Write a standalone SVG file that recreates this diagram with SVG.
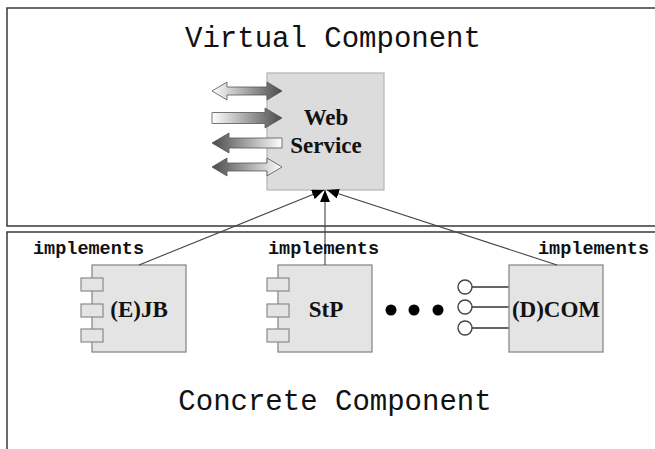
<svg xmlns="http://www.w3.org/2000/svg" xmlns:xlink="http://www.w3.org/1999/xlink" width="655" height="449" viewBox="0 0 655 449">
  <style>
    .frame { fill: none; stroke: #3a3a3a; stroke-width: 1.5; }
    .title { font-family: "Liberation Mono", "Courier New", monospace; font-size: 29px; fill: #111; text-anchor: middle; }
    .impl { font-family: "Liberation Mono", "Courier New", monospace; font-size: 18.5px; font-weight: bold; fill: #111; }
    .label { font-family: "Liberation Serif", "Times New Roman", serif; font-size: 23px; font-weight: bold; fill: #111; text-anchor: middle; }
    .box { fill: #e4e4e4; stroke: #8a8a8a; stroke-width: 1.3; }
    .ws { fill: #dcdcdc; stroke: #b4b4b4; stroke-width: 1.2; }
    .port { fill: #e4e4e4; stroke: #8a8a8a; stroke-width: 1.2; }
    .lolly { fill: #ffffff; stroke: #444; stroke-width: 1.4; }
    .stick { stroke: #333; stroke-width: 1.6; }
    .conn { stroke: #444; stroke-width: 1.1; fill: none; marker-end: url(#head); }
    .blk { stroke: #555; stroke-width: 0.8; }
  </style>
  <defs>
    <linearGradient id="lightToDark" x1="0" y1="0" x2="1" y2="0">
      <stop offset="0" stop-color="#ffffff"/>
      <stop offset="1" stop-color="#4a4a4a"/>
    </linearGradient>
    <linearGradient id="darkToLight" x1="0" y1="0" x2="1" y2="0">
      <stop offset="0" stop-color="#4a4a4a"/>
      <stop offset="1" stop-color="#ffffff"/>
    </linearGradient>
    <marker id="head" viewBox="0 0 12 10" refX="12" refY="5" markerWidth="12" markerHeight="10" markerUnits="userSpaceOnUse" orient="auto">
      <path d="M0,0 L12,5 L0,10 Z" fill="#000"/>
    </marker>
    <!-- block arrows drawn around y = 0, from x = 212 to x = 282 -->
    <polygon id="dbl" points="212,0 227,-9 227,-4 267,-4 267,-9 282,0 267,9 267,4 227,4 227,9"/>
    <polygon id="right" points="212,-5.5 265,-5.5 265,-10 282,0 265,10 265,5.5 212,5.5"/>
    <polygon id="left" points="212,0 229,-10 229,-5 282,-5 282,5 229,5 229,10"/>
  </defs>

  <!-- upper and lower frames -->
  <path class="frame" d="M660,8 H7 V226 H660"/>
  <path class="frame" d="M660,232 H7 V452"/>

  <text class="title" x="333" y="47">Virtual Component</text>
  <text class="title" x="335" y="410">Concrete Component</text>

  <g id="web-service">
    <rect class="ws" x="267" y="73" width="117" height="117"/>
    <text class="label" x="326" y="125">Web</text>
    <text class="label" x="326" y="153">Service</text>
  </g>

  <g id="message-arrows">
    <use xlink:href="#dbl" class="blk" transform="translate(0,91)" fill="url(#lightToDark)"/>
    <use xlink:href="#right" class="blk" transform="translate(0,118)" fill="url(#lightToDark)"/>
    <use xlink:href="#left" class="blk" transform="translate(0,143)" fill="url(#darkToLight)"/>
    <use xlink:href="#dbl" class="blk" transform="translate(0,167)" fill="url(#darkToLight)"/>
  </g>

  <g id="ejb">
    <rect class="box" x="92" y="265" width="94" height="87"/>
    <rect class="port" x="81" y="278" width="22" height="13"/>
    <rect class="port" x="81" y="304" width="22" height="13"/>
    <rect class="port" x="81" y="329" width="22" height="13"/>
    <text class="label" x="139" y="317">(E)JB</text>
  </g>

  <g id="stp">
    <rect class="box" x="278" y="265" width="94" height="87"/>
    <rect class="port" x="267" y="278" width="22" height="13"/>
    <rect class="port" x="267" y="304" width="22" height="13"/>
    <rect class="port" x="267" y="329" width="22" height="13"/>
    <text class="label" x="326" y="317">StP</text>
  </g>

  <g id="ellipsis">
    <circle cx="391" cy="310" r="5.5" fill="#000"/>
    <circle cx="414" cy="310" r="5.5" fill="#000"/>
    <circle cx="438" cy="310" r="5.5" fill="#000"/>
  </g>

  <g id="dcom">
    <line class="stick" x1="472" y1="287" x2="509" y2="287"/>
    <line class="stick" x1="472" y1="307" x2="509" y2="307"/>
    <line class="stick" x1="472" y1="328" x2="509" y2="328"/>
    <circle class="lolly" cx="465" cy="287" r="7"/>
    <circle class="lolly" cx="465" cy="307" r="7"/>
    <circle class="lolly" cx="465" cy="328" r="7"/>
    <rect class="box" x="509" y="265" width="94" height="87"/>
    <text class="label" x="556" y="317">(D)COM</text>
  </g>

  <g id="connectors">
    <line class="conn" x1="139" y1="265" x2="324" y2="190"/>
    <line class="conn" x1="325" y1="265" x2="325" y2="190"/>
    <line class="conn" x1="557" y1="265" x2="327" y2="190"/>
    <text class="impl" x="33" y="254">implements</text>
    <text class="impl" x="268" y="254">implements</text>
    <text class="impl" x="538" y="254">implements</text>
  </g>
</svg>
